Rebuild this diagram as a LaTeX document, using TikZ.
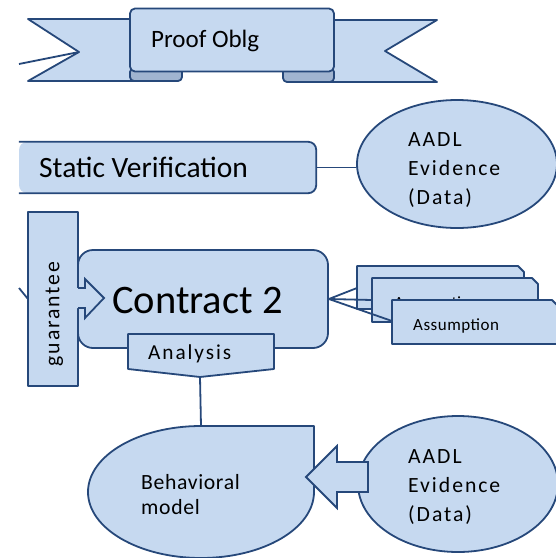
\documentclass[tikz,border=0pt]{standalone}
\usepackage{fontspec}
\setmainfont{Carlito}
\newfontfamily\spc[LetterSpace=9]{Carlito}
\newfontfamily\spcb[LetterSpace=3]{Carlito}
\usetikzlibrary{shapes.geometric}
\definecolor{fillb}{RGB}{198,217,240}
\definecolor{lineb}{RGB}{38,72,122}
\definecolor{foldb}{RGB}{160,180,208}
\begin{document}
\begin{tikzpicture}[x=1pt,y=-1pt,
  shp/.style={fill=fillb,draw=lineb,line width=1.8pt,line join=round},
  conn/.style={draw=lineb,line width=1.8pt},
  txt/.style={inner sep=0pt,text=black}]
\useasboundingbox (0,0) rectangle (556,558);

% ---------- banner ----------
\coordinate (notch) at (79,52);
\coordinate (f1) at (19,64);
\path[shp] (28,19) -- (140,19) -- (140,81) -- (28,81) -- (notch) -- cycle;
\draw[conn] (f1) -- (notch);
\path[shp,fill=foldb,rounded corners=4pt] (130,68) -- (182,68) -- (182,81) -- (130,81) -- cycle;
\path[shp] (437,20) -- (385,51) -- (437,82) -- (320,82) -- (320,20) -- cycle;
\path[shp,fill=foldb,rounded corners=4pt] (283,68) -- (334,68) -- (334,82) -- (283,82) -- cycle;
\node[shp,rounded corners=5pt,minimum width=204pt,minimum height=63pt,inner sep=0pt] (proof) at (232,40) {};
\node[txt,anchor=base west,font=\fontsize{25}{30}\selectfont] (prooft) at (151,47) {Proof Oblg};

% ---------- static verification ----------
\node[fill=fillb,rounded corners=8pt,minimum width=297pt,minimum height=51pt,inner sep=0pt] (sv) at (167.5,167.5) {};
\draw[conn,rounded corners=8pt] (sv.north west) -- (sv.north east) -- (sv.south east) -- (sv.south west);
\node[txt,anchor=base west,font=\fontsize{29.5}{35}\selectfont] (svt) at (39,177) {Static Verification};

\node[shp,ellipse,minimum width=200pt,minimum height=128pt,inner sep=0pt] (ev1) at (457,164) {};
\node[txt,anchor=north west,align=left,font=\spc\fontsize{21.7}{29}\selectfont] (ev1t) at (408,132) {AADL\\Evidence\\(Data)};
\draw[conn] (sv.east) -- (ev1.west |- sv.east);

% ---------- assumptions ----------
\path[shp] (357,266) -- (518,266) -- (524,272) -- (524,309) -- (357,309) -- cycle;
\coordinate (a1) at (357,288);
\path[shp] (372,278) -- (532,278) -- (538,284) -- (538,322) -- (372,322) -- cycle;
\coordinate (a2) at (372,300);
\node[txt,anchor=base west,font=\spcb\fontsize{17}{20}\selectfont] (a2t) at (394,308) {Assumption};
\path[shp] (392,300) -- (552,300) -- (558,306) -- (558,344) -- (392,344) -- cycle;
\coordinate (a3) at (392,321);
\node[txt,anchor=base west,font=\spcb\fontsize{17}{20}\selectfont] (a3t) at (413,330) {Assumption};

% ---------- contract ----------
\node[shp,rounded corners=15pt,minimum width=250pt,minimum height=98pt,inner sep=0pt] (con) at (203,299) {};
\node[txt,anchor=base west,font=\fontsize{40.5}{48}\selectfont] (cont) at (112,313) {Contract 2};
\draw[conn] (con.east) -- (a1);
\draw[conn] (con.east) -- (a2);
\draw[conn] (con.east) -- (a3);

\coordinate (f2) at (19,288);
\coordinate (f2e) at (28,299);
\draw[conn] (f2) -- (f2e);
\node[shp,minimum width=50pt,minimum height=174pt,inner sep=0pt] (gua) at (53,299) {};
\node[txt,rotate=90,font=\spc\fontsize{21.7}{26}\selectfont] (guat) at (54.5,314) {guarantee};
\path[fill=fillb] (77,288) -- (85,288) -- (85,279) -- (104,298) -- (85,318) -- (85,308) -- (77,308) -- cycle;
\draw[conn,line join=miter] (78,288) -- (85,288) -- (85,279) -- (104,298) -- (85,318) -- (85,308) -- (78,308);

\path[shp] (128,334) -- (274,334) -- (274,369) -- (200,377) -- (128,369) -- cycle;
\coordinate (anb) at (200,377);
\node[txt,anchor=base west,font=\spc\fontsize{21.3}{26}\selectfont] (ant) at (148,359) {Analysis};

% ---------- behavioral ----------
\coordinate (beh) at (201,426);
\path[shp] (314,426) -- (beh) arc[start angle=270,end angle=0,x radius=113,y radius=66] -- cycle;
\draw[conn] (anb) -- (beh);
\node[txt,anchor=north west,align=left,font=\spcb\fontsize{21.7}{25}\selectfont] (beht) at (141,474) {Behavioral\\model};

\node[shp,ellipse,minimum width=200pt,minimum height=136pt,inner sep=0pt] (ev2) at (458,484) {};
\node[txt,anchor=north west,align=left,font=\spc\fontsize{21.7}{29}\selectfont] (ev2t) at (408,449) {AADL\\Evidence\\(Data)};
\path[shp,line join=miter] (306,477) -- (337,446) -- (337,462) -- (368,462) -- (368,492) -- (337,492) -- (337,508) -- cycle;
\end{tikzpicture}
\end{document}
